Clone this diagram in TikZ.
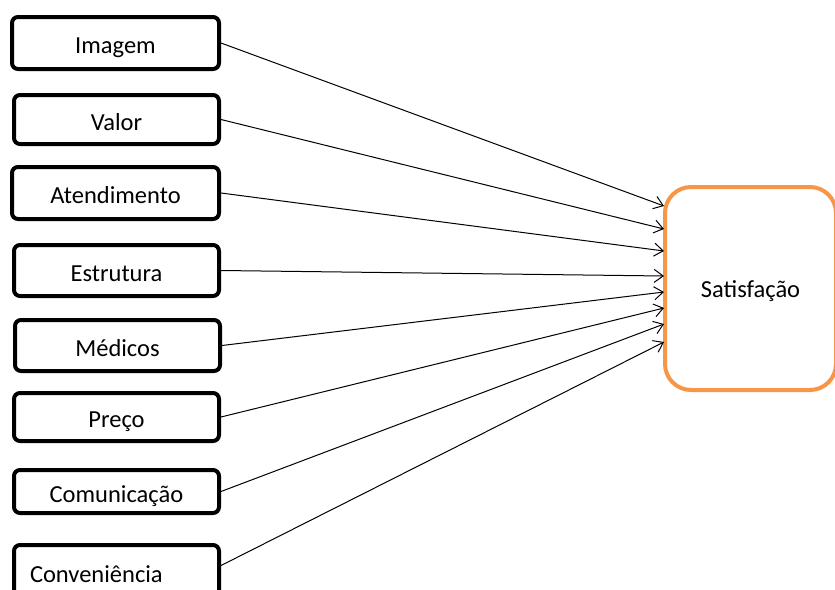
\documentclass[tikz,border=0pt]{standalone}
\usepackage{fontspec}
\setmainfont{Carlito}
\usetikzlibrary{arrows.meta}
\definecolor{satorange}{HTML}{F79646}
\begin{document}
\begin{tikzpicture}[x=1pt,y=-1pt,
  factor/.style={draw=black,line width=4pt,rounded corners=6pt,fill=white,
    minimum width=205pt,inner sep=0pt,text height=22.5pt,text depth=1.5pt,
    font=\fontsize{24.5}{29}\selectfont},
  satbox/.style={draw=satorange,line width=4pt,rounded corners=26pt,fill=white,
    minimum width=171pt,minimum height=203pt,inner sep=0pt,text height=19pt,text depth=2pt,
    font=\fontsize{24.5}{29}\selectfont},
  link/.style={line width=1pt,-{Straight Barb[length=9pt,width=13pt,line width=1pt]}}]
\useasboundingbox (0,0) rectangle (835,589);
\clip (0,0) rectangle (835,589);
\node[factor,minimum width=207pt,minimum height=52pt] (img) at (115.5,43) {Imagem};
\node[factor,minimum height=49pt] (val) at (116.5,119.5) {Valor};
\node[factor,minimum width=207pt,minimum height=52pt] (ate) at (115.5,193) {Atendimento};
\node[factor,minimum height=51pt] (est) at (116.5,270.5) {Estrutura};
\node[factor,minimum height=51pt] (med) at (117.5,345.5) {Médicos};
\node[factor,minimum height=48pt] (pre) at (116.5,417) {Preço};
\node[factor,minimum height=43pt] (com) at (116.5,491.5) {Comunicação};
\node[factor,minimum height=53pt,text width=173pt,align=left] (con) at (116.5,571.5) {Conveniência};
\node[satbox] (sat) at (750.5,288.5) {Satisfação};
\coordinate (t1) at (664,206);
\coordinate (t2) at (664,229);
\coordinate (t3) at (664,251);
\coordinate (t4) at (664,276);
\coordinate (t5) at (664,292);
\coordinate (t6) at (664,308);
\coordinate (t7) at (664,324);
\coordinate (t8) at (664,342);
\draw[link] (img.east) -- (t1);
\draw[link] (val.east) -- (t2);
\draw[link] (ate.east) -- (t3);
\draw[link] (est.east) -- (t4);
\draw[link] (med.east) -- (t5);
\draw[link] (pre.east) -- (t6);
\draw[link] (com.east) -- (t7);
\draw[link] ([yshift=6pt]con.east) -- (t8);
\end{tikzpicture}
\end{document}
